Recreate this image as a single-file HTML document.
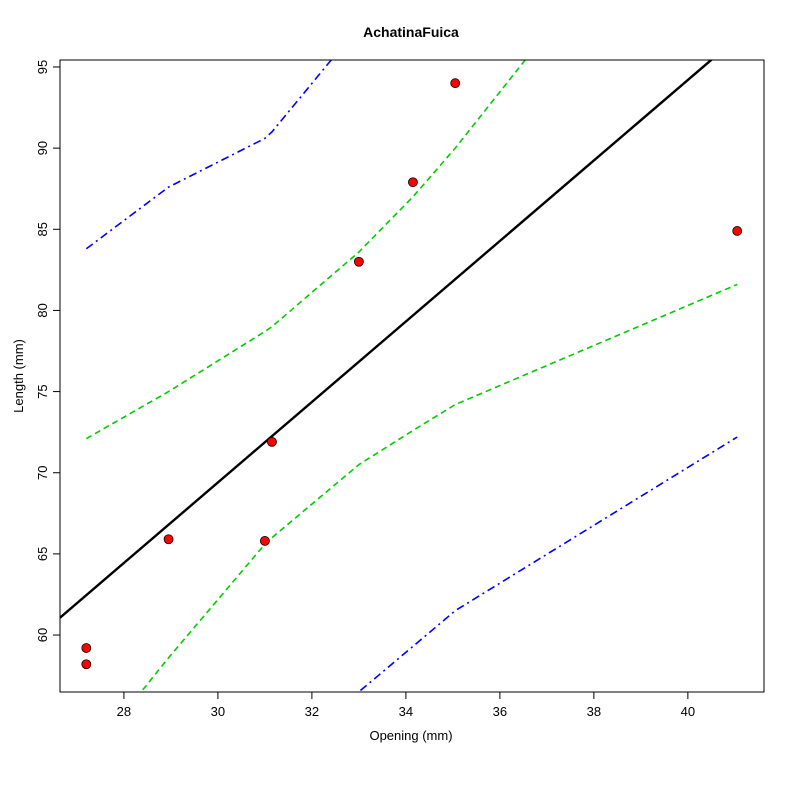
<!DOCTYPE html>
<html><head><meta charset="utf-8"><style>html,body{margin:0;background:#fff;width:800px;height:800px;overflow:hidden}svg{display:block;font-family:"Liberation Sans",Arial,sans-serif}</style></head>
<body>
<svg id="chart" width="800" height="800" viewBox="0 0 800 800">
<rect width="800" height="800" fill="#fff"/>
<text x="411" y="37" font-size="14" font-weight="bold" text-anchor="middle">AchatinaFuica</text>
<text x="411" y="740" font-size="13" text-anchor="middle">Opening (mm)</text>
<text transform="translate(23,376) rotate(-90)" font-size="13" text-anchor="middle">Length (mm)</text>
<defs><clipPath id="clip"><rect x="60" y="60" width="704" height="632"/></clipPath></defs>
<g id="marks" clip-path="url(#clip)"></g>
<g id="axes"></g>
<rect x="60" y="60" width="704" height="632" fill="none" stroke="#000" stroke-width="1"/>
</svg>
<script>
const ptX=[27.2,27.2,28.95,31.0,31.15,33.0,34.15,35.05,41.05];
const ptY=[59.2,58.2,65.9,65.8,71.9,83.0,87.9,94.0,84.9];
const bandX=[27.2,28.95,31.0,31.15,33.0,34.15,35.05,41.05];
const confUpper=[72.1,75.0,78.7,79.0,83.6,87.0,90.0,111.9];
const confLower=[52.3,58.6,65.6,66.0,70.5,72.6,74.2,81.6];
const predUpper=[83.8,87.6,90.6,91.0,97.5,100.5,102.7,121.0];
const predLower=[40.8,46.1,52.8,53.2,56.5,59.3,61.5,72.2];
const fitIntercept=-5.0, fitSlope=2.48;
const xTicks=[28,30,32,34,36,38,40];
const yTicks=[60,65,70,75,80,85,90,95];
const X0=26.64,X1=41.62,Y0=56.49,Y1=95.43;
const sx=v=>60+(v-X0)/(X1-X0)*704;
const sy=v=>692-(v-Y0)/(Y1-Y0)*632;
const NS="http://www.w3.org/2000/svg";
const marks=document.getElementById('marks'),axes=document.getElementById('axes');
function mk(tag,attrs,parent){const e=document.createElementNS(NS,tag);for(const k in attrs)e.setAttribute(k,attrs[k]);parent.appendChild(e);return e;}
function poly(ys,color,dash,name){
  const p=mk('polyline',{points:bandX.map((x,i)=>sx(x)+','+sy(ys[i])).join(' '),fill:'none',stroke:color,'stroke-width':1.6,'stroke-dasharray':dash},marks);
  
  
}
poly(confUpper,'#00cc00','6,4','confidence-upper');
poly(confLower,'#00cc00','6,4','confidence-lower');
poly(predUpper,'#0000ff','8,4,2,4','prediction-upper');
poly(predLower,'#0000ff','8,4,2,4','prediction-lower');
const fl=mk('line',{x1:sx(X0),y1:sy(fitIntercept+fitSlope*X0),x2:sx(X1),y2:sy(fitIntercept+fitSlope*X1),stroke:'#000','stroke-width':2.4},marks);


ptX.forEach((x,i)=>{
  const c=mk('circle',{cx:sx(x),cy:sy(ptY[i]),r:4.5,fill:'#ff0000',stroke:'#000','stroke-width':0.8},marks);
  
  
});
xTicks.forEach(t=>{
  const l=mk('line',{x1:sx(t),x2:sx(t),y1:692,y2:699,stroke:'#000'},axes);
  
  
  const tx=mk('text',{x:sx(t),y:716,'font-size':13,'text-anchor':'middle'},axes);tx.textContent=t;
  
  
});
yTicks.forEach(t=>{
  const l=mk('line',{x1:53,x2:60,y1:sy(t),y2:sy(t),stroke:'#000'},axes);
  
  
  const tx=mk('text',{transform:`translate(47,${sy(t)}) rotate(-90)`,'font-size':13,'text-anchor':'middle'},axes);tx.textContent=t;
  
  
});
</script>
</body></html>
